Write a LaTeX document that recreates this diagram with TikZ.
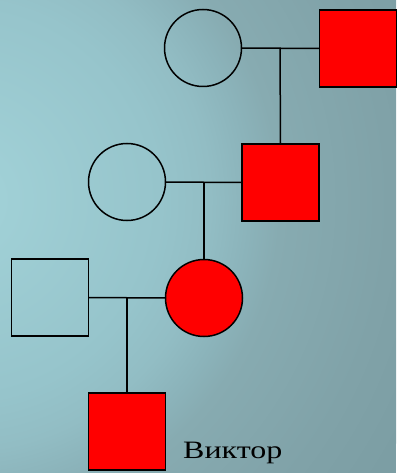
\documentclass[tikz,border=0pt]{standalone}
\usepackage{fontspec}
\setmainfont{Liberation Serif}
\definecolor{bg0}{RGB}{163,211,217}
\definecolor{bg1}{RGB}{160,208,214}
\definecolor{bg2}{RGB}{150,196,203}
\definecolor{bg3}{RGB}{146,189,196}
\definecolor{bg4}{RGB}{139,179,186}
\definecolor{bg5}{RGB}{135,171,177}
\definecolor{bg6}{RGB}{128,162,168}
\definecolor{bg7}{RGB}{124,158,164}
\pgfdeclareradialshading{bgrad}{\pgfpoint{0bp}{0bp}}{color(0bp)=(bg0); color(2bp)=(bg1); color(10bp)=(bg2); color(12.5bp)=(bg3); color(14.5bp)=(bg4); color(16bp)=(bg5); color(21.5bp)=(bg6); color(25bp)=(bg7); color(50bp)=(bg7)}
\tikzset{
  person/.style={draw=black, line width=1.5pt, minimum size=77pt, inner sep=0pt, outer sep=0pt},
  male/.style={person, rectangle},
  female/.style={person, circle},
  affected/.style={fill=red},
  link/.style={draw=black, line width=1.5pt},
}
\begin{document}
\begin{tikzpicture}[x=1pt,y=-1pt]
\useasboundingbox (0,0) rectangle (396,473);
\begin{scope}
\clip (0,0) rectangle (396,473);
\fill[bg7] (0,0) rectangle (396,473);
\shade[shading=bgrad] (-40,200) circle (500);
\end{scope}
% generation I
\node[female] (gm) at (203,48) {};
\node[male, affected] (gf) at (358,48.5) {};
\coordinate (j1) at (280,48);
% generation II
\node[female] (mo) at (127,182) {};
\node[male, affected] (fa) at (280.5,182.5) {};
\coordinate (j2) at (204,182);
% generation III
\node[male] (hu) at (50,297.5) {};
\node[female, affected] (da) at (204,298) {};
\coordinate (j3) at (127,298);
% generation IV
\node[male, affected] (so) at (127,431.5) {};
\node[anchor=base west, inner sep=0pt, font=\fontsize{25}{29}\selectfont] (name) at (183,458) {\scalebox{1.28}[1]{Виктор}};
% connectors
\draw[link] (gm.east) -- (gf.west);
\draw[link] (j1) -- (fa.north);
\draw[link] (mo.east) -- (fa.west);
\draw[link] (j2) -- (da.north);
\draw[link] (hu.east) -- (da.west);
\draw[link] (j3) -- (so.north);
\end{tikzpicture}
\end{document}
